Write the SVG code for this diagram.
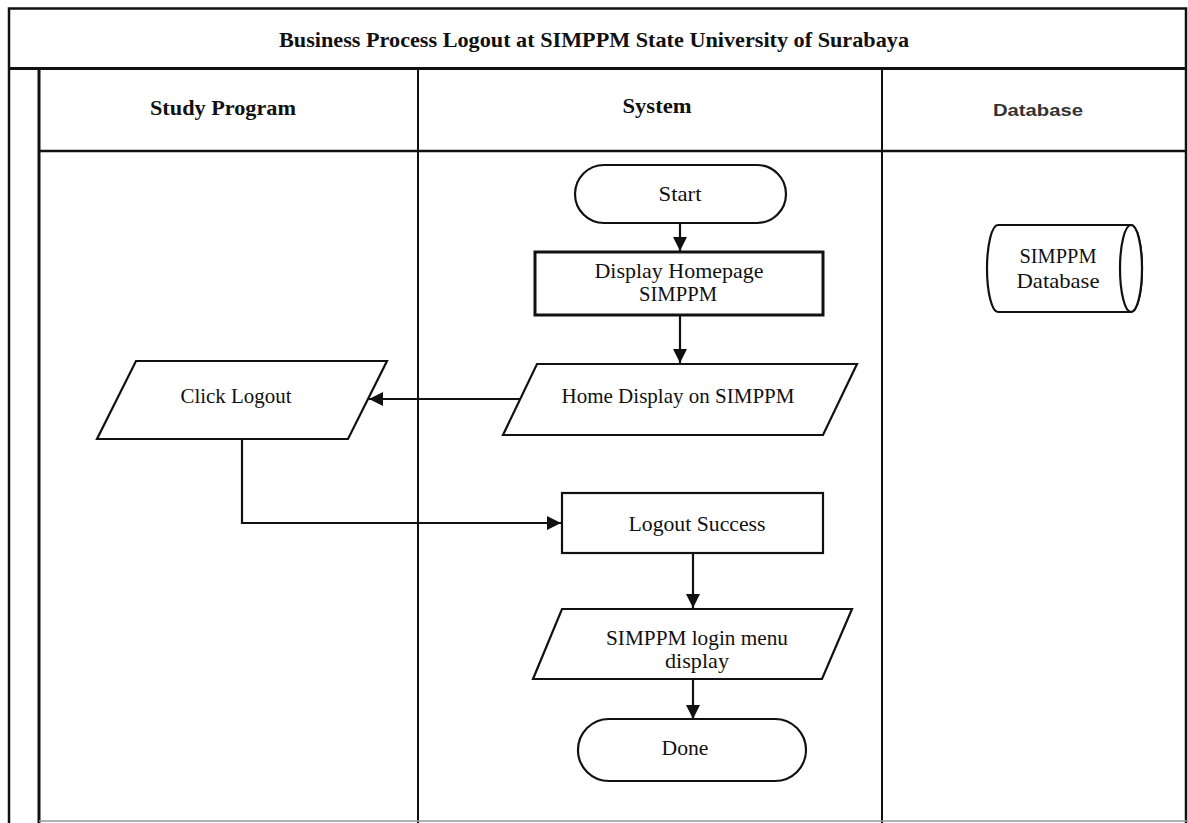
<svg xmlns="http://www.w3.org/2000/svg" width="1188" height="823" viewBox="0 0 1188 823">
<style>
.frame{fill:none;stroke:#111;stroke-width:2.5}
.shape{fill:#fff;stroke:#111;stroke-width:2.2}
.thick{stroke-width:3}
.conn{fill:none;stroke:#111;stroke-width:2.2}
.t{font-family:"Liberation Serif","Times New Roman",serif;font-size:21px;fill:#111;text-anchor:middle}
.h{font-family:"Liberation Serif","Times New Roman",serif;font-size:21px;font-weight:bold;fill:#111;text-anchor:middle}
.db{font-family:"Liberation Sans",Arial,sans-serif;font-size:17px;font-weight:bold;fill:#333;text-anchor:middle}
</style>
<defs>
<marker id="arr" markerUnits="userSpaceOnUse" markerWidth="16" markerHeight="16" viewBox="0 0 16 16" refX="15" refY="8" orient="auto">
<path d="M1,1 L15,8 L1,15 Z" fill="#111"/>
</marker>
</defs>
<rect width="1188" height="823" fill="#fff"/>
<g id="frame">
<rect class="frame" x="9" y="8.5" width="1177" height="820"/>
<line class="frame" x1="9" y1="68.5" x2="1186" y2="68.5" style="stroke-width:3"/>
<line class="frame" x1="39" y1="68.5" x2="39" y2="823" style="stroke-width:3"/>
<line class="frame" x1="39" y1="151" x2="1186" y2="151"/>
<line class="frame" x1="418" y1="68.5" x2="418" y2="823" style="stroke-width:2"/>
<line class="frame" x1="882" y1="68.5" x2="882" y2="823" style="stroke-width:2"/>
<line x1="39" y1="821" x2="1188" y2="821" stroke="#999" stroke-width="1.5"/>
<text class="h" x="594" y="47" textLength="630" lengthAdjust="spacingAndGlyphs">Business Process Logout at SIMPPM State University of Surabaya</text>
<text class="h" x="223" y="115" textLength="146" lengthAdjust="spacingAndGlyphs">Study Program</text>
<text class="h" x="657" y="113" textLength="69" lengthAdjust="spacingAndGlyphs">System</text>
<text class="db" x="1038" y="116" textLength="90" lengthAdjust="spacingAndGlyphs">Database</text>
</g>
<g id="connectors">
<line class="conn" x1="680" y1="223" x2="680" y2="251" marker-end="url(#arr)"/>
<line class="conn" x1="680" y1="315" x2="680" y2="363" marker-end="url(#arr)"/>
<line class="conn" x1="520" y1="399" x2="369" y2="399" marker-end="url(#arr)"/>
<polyline class="conn" points="242,439 242,523 561,523" marker-end="url(#arr)"/>
<line class="conn" x1="693" y1="553" x2="693" y2="608" marker-end="url(#arr)"/>
<line class="conn" x1="693" y1="679" x2="693" y2="719" marker-end="url(#arr)"/>
</g>
<g id="start">
<rect class="shape" x="575" y="165" width="211" height="58" rx="29"/>
<text class="t" x="680" y="201" textLength="43" lengthAdjust="spacingAndGlyphs">Start</text>
</g>
<g id="display-homepage">
<rect class="shape thick" x="535" y="252" width="288" height="63"/>
<text class="t" x="679" y="278" textLength="169" lengthAdjust="spacingAndGlyphs">Display Homepage</text>
<text class="t" x="678" y="301" textLength="78" lengthAdjust="spacingAndGlyphs">SIMPPM</text>
</g>
<g id="home-display">
<polygon class="shape" points="537,364 857,364 823,435 503,435"/>
<text class="t" x="678" y="403" textLength="233" lengthAdjust="spacingAndGlyphs">Home Display on SIMPPM</text>
</g>
<g id="click-logout">
<polygon class="shape" points="136,361 387,361 348,439 97,439"/>
<text class="t" x="236" y="403" textLength="111" lengthAdjust="spacingAndGlyphs">Click Logout</text>
</g>
<g id="logout-success">
<rect class="shape" x="562" y="493" width="261" height="60"/>
<text class="t" x="697" y="531" textLength="137" lengthAdjust="spacingAndGlyphs">Logout Success</text>
</g>
<g id="login-menu">
<polygon class="shape" points="562,609 852,609 822,679 533,679"/>
<text class="t" x="697" y="645" textLength="182" lengthAdjust="spacingAndGlyphs">SIMPPM login menu</text>
<text class="t" x="697" y="668" textLength="64" lengthAdjust="spacingAndGlyphs">display</text>
</g>
<g id="done">
<rect class="shape" x="578" y="719" width="228" height="62" rx="31"/>
<text class="t" x="685" y="755" textLength="47" lengthAdjust="spacingAndGlyphs">Done</text>
</g>
<g id="database">
<path class="shape" d="M998,225 L1131,225 A11,43.5 0 0 1 1131,312 L998,312 A11,43.5 0 0 1 998,225 Z"/>
<ellipse class="shape" cx="1131" cy="268.5" rx="11" ry="43.5"/>
<text class="t" x="1058" y="263" textLength="77" lengthAdjust="spacingAndGlyphs">SIMPPM</text>
<text class="t" x="1058" y="288" textLength="83" lengthAdjust="spacingAndGlyphs">Database</text>
</g>
</svg>
